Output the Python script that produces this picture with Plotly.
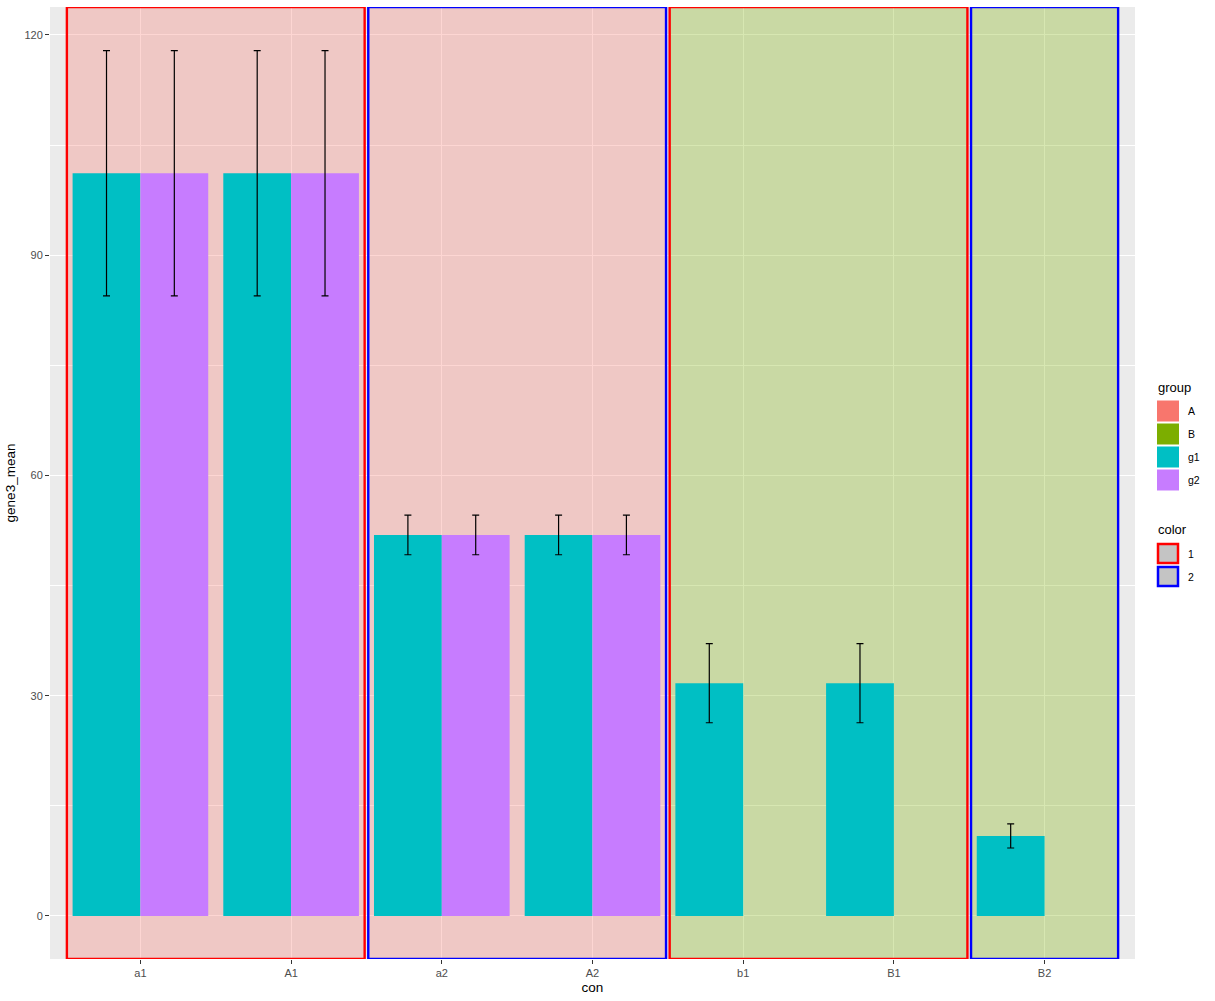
import plotly.graph_objects as go

# ---------------- data ----------------
categories = ["a1", "A1", "a2", "A2", "b1", "B1", "B2"]
g1_mean = [101.15, 101.15, 51.9, 51.9, 31.7, 31.7, 10.9]
g1_err = [16.7, 16.7, 2.7, 2.7, 5.38, 5.38, 1.64]
g2_mean = [101.15, 101.15, 51.9, 51.9, None, None, None]
g2_err = [16.7, 16.7, 2.7, 2.7, None, None, None]

rect_from = ["a1", "a2", "b1", "B2"]
rect_to = ["A1", "A2", "B1", "B2"]
rect_group = ["A", "A", "B", "B"]
rect_color = ["1", "2", "1", "2"]

group_levels = ["A", "B", "g1", "g2"]
color_levels = ["1", "2"]

# ---------------- styles ----------------
fill_map = {"A": "#F8766D", "B": "#7CAE00", "g1": "#00BFC4", "g2": "#C77CFF"}
fill_rgba = {"A": "rgba(248,118,109,0.3)", "B": "rgba(124,174,0,0.3)"}
line_map = {"1": "#FF0000", "2": "#0000FF"}
FONT = "Liberation Sans, Arial, Helvetica, sans-serif"

W, H = 1215, 1001
PL, PR, PT, PB = 50, 1135, 7, 959  # panel pixel bounds
Y_RANGE = [-5.86, 123.8]


def px_x(px):
    return (px - PL) / (PR - PL)


def px_y(py):
    return (PB - py) / (PB - PT)


fig = go.Figure()

err_style = dict(type="data", color="black", thickness=1.2, width=3.5, visible=True)

fig.add_trace(go.Bar(
    x=categories, y=g1_mean, name="g1", marker=dict(color=fill_map["g1"], line=dict(width=0)),
    error_y=dict(array=g1_err, **err_style), showlegend=False))
fig.add_trace(go.Bar(
    x=categories, y=g2_mean, name="g2", marker=dict(color=fill_map["g2"], line=dict(width=0)),
    error_y=dict(array=g2_err, **err_style), showlegend=False))

shapes = []
d = 0.012
for f, t, g, c in zip(rect_from, rect_to, rect_group, rect_color):
    i0 = categories.index(f)
    i1 = categories.index(t)
    shapes.append(dict(
        type="rect", xref="x", yref="y",
        x0=i0 - 0.5 + d, x1=i1 + 0.5 - d, y0=Y_RANGE[0], y1=Y_RANGE[1],
        fillcolor=fill_rgba[g], line=dict(color=line_map[c], width=2.4),
        layer="between"))

annotations = []
# legend: group
lx0, lx1 = 1157, 1179
annotations.append(dict(xref="paper", yref="paper", x=px_x(1156), y=px_y(387),
                        text="group", showarrow=False, xanchor="left", yanchor="middle",
                        font=dict(family=FONT, size=13, color="black")))
key_tops = [400.5, 423.5, 446.5, 469.5]
for lev, top in zip(group_levels, key_tops):
    shapes.append(dict(type="rect", xref="paper", yref="paper",
                       x0=px_x(lx0), x1=px_x(lx1), y0=px_y(top + 21), y1=px_y(top),
                       fillcolor=fill_map[lev], line=dict(width=0), layer="above"))
    annotations.append(dict(xref="paper", yref="paper", x=px_x(1186), y=px_y(top + 10.5),
                            text=lev, showarrow=False, xanchor="left", yanchor="middle",
                            font=dict(family=FONT, size=10.5, color="black")))
# legend: color
annotations.append(dict(xref="paper", yref="paper", x=px_x(1156), y=px_y(529),
                        text="color", showarrow=False, xanchor="left", yanchor="middle",
                        font=dict(family=FONT, size=13, color="black")))
ckey_tops = [543, 566]
for lev, top in zip(color_levels, ckey_tops):
    shapes.append(dict(type="rect", xref="paper", yref="paper",
                       x0=px_x(lx0 + 1), x1=px_x(lx1 - 1), y0=px_y(top + 20), y1=px_y(top + 1),
                       fillcolor="#C4C4C4", line=dict(color=line_map[lev], width=2.5), layer="above"))
    annotations.append(dict(xref="paper", yref="paper", x=px_x(1186), y=px_y(top + 10.5),
                            text=lev, showarrow=False, xanchor="left", yanchor="middle",
                            font=dict(family=FONT, size=10.5, color="black")))

fig.update_layout(
    width=W, height=H,
    margin=dict(l=PL, r=W - PR, t=PT, b=H - PB, pad=0, autoexpand=False),
    paper_bgcolor="white", plot_bgcolor="#EBEBEB",
    barmode="group", bargap=0.1, bargroupgap=0,
    showlegend=False,
    shapes=shapes, annotations=annotations,
    font=dict(family=FONT),
)
fig.update_xaxes(
    type="category", categoryorder="array", categoryarray=categories,
    range=[-0.6, len(categories) - 0.4], automargin=False,
    showgrid=True, gridcolor="white", gridwidth=1.1, zeroline=False, showline=False,
    ticks="outside", ticklen=4, tickcolor="#333333", tickwidth=1.1,
    tickfont=dict(family=FONT, size=11, color="#4D4D4D"),
    title=dict(text="con", font=dict(family=FONT, size=13.5, color="black"), standoff=4),
)
fig.update_yaxes(
    range=Y_RANGE, tickmode="linear", tick0=0, dtick=30, automargin=False,
    showgrid=True, gridcolor="white", gridwidth=1.1, zeroline=False, showline=False,
    minor=dict(dtick=15, showgrid=True, gridcolor="white", gridwidth=0.55, ticks=""),
    ticks="outside", ticklen=4, tickcolor="#333333", tickwidth=1.1,
    tickfont=dict(family=FONT, size=11, color="#4D4D4D"),
    title=dict(text="gene3_mean", font=dict(family=FONT, size=13.5, color="black"), standoff=5),
)

fig.write_html("out.html", config={"displayModeBar": False},
               post_script="document.body.style.margin='0px';")
